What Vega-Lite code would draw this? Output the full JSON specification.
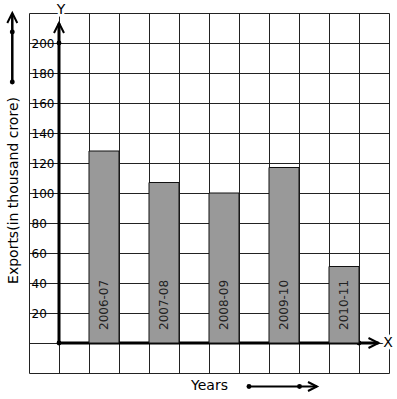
{
  "$schema": "https://vega.github.io/schema/vega-lite/v6.json",
  "width": 360,
  "height": 360,
  "autosize": {"type": "none"},
  "padding": {"left": 29, "top": 13, "right": 8, "bottom": 26},
  "background": "white",
  "config": {
    "view": {"stroke": null},
    "font": "DejaVu Sans",
    "axis": {"labelFont": "DejaVu Sans", "titleFont": "DejaVu Sans", "titleFontWeight": "normal"}
  },
  "datasets": {
    "exports": [
      {"year": "2006-07", "exports": 128},
      {"year": "2007-08", "exports": 107},
      {"year": "2008-09", "exports": 100},
      {"year": "2009-10", "exports": 117},
      {"year": "2010-11", "exports": 51}
    ]
  },
  "resolve": {"scale": {"x": "independent"}},
  "layer": [
    {
      "data": {"values": [{}]},
      "layer": [
        {
          "mark": {"type": "rule", "color": "#000000", "strokeWidth": 3},
          "encoding": {
            "x": {"datum": 0, "type": "quantitative",
                  "scale": {"domain": [-1, 11], "nice": false, "zero": false},
                  "axis": {"values": [-1, 0, 1, 2, 3, 4, 5, 6, 7, 8, 9, 10, 11], "tickCount": 30, "labelOverlap": false, "grid": true, "gridColor": "#222222", "gridWidth": 1, "gridOpacity": 1,
                           "labels": false, "ticks": false, "tickSize": 0, "domain": false,
                           "title": "Years", "titleX": 180, "titleY": 12, "titleBaseline": "middle", "titleAlign": "center", "titleFontSize": 14, "titleColor": "#000000"}},
            "y": {"datum": 0, "type": "quantitative",
                  "scale": {"domain": [-20, 220], "nice": false, "zero": false},
                  "axis": {"values": [-20, 0, 20, 40, 60, 80, 100, 120, 140, 160, 180, 200, 220], "tickCount": 30, "labelOverlap": false, "grid": true, "gridColor": "#222222", "gridWidth": 1, "gridOpacity": 1,
                           "ticks": false, "tickSize": 0, "domain": false, "labelAlign": "left", "labelPadding": -2, "labelFontSize": 12, "labelColor": "#000000",
                           "labelExpr": "datum.value >= 20 && datum.value <= 200 ? datum.label : ''",
                           "title": "Exports(in thousand crore)", "titleX": -16, "titleY": 177, "titleAngle": 270, "titleBaseline": "middle", "titleAlign": "center", "titleFontSize": 14, "titleColor": "#000000"}},
            "y2": {"datum": 213}
          }
        },
        {
          "mark": {"type": "rule", "color": "#000000", "strokeWidth": 3},
          "encoding": {"x": {"datum": 0}, "x2": {"datum": 10.65}, "y": {"datum": 0}}
        },
        {
          "mark": {"type": "rule", "color": "#000000", "strokeWidth": 2.5},
          "encoding": {"x": {"datum": -1.557}, "y": {"datum": 174}, "y2": {"datum": 219.5}}
        },
        {
          "mark": {"type": "rule", "color": "#000000", "strokeWidth": 2},
          "encoding": {"x": {"datum": 6.333}, "x2": {"datum": 8.6}, "y": {"datum": -29}}
        },
        {
          "mark": {"type": "point", "shape": "M-1,1L0,-1L1,1", "filled": false, "stroke": "#000000", "strokeWidth": 2, "size": 100, "opacity": 1},
          "encoding": {"x": {"datum": 0}, "y": {"datum": 210}}
        },
        {
          "mark": {"type": "point", "shape": "M-1,1L0,-1L1,1", "filled": false, "stroke": "#000000", "strokeWidth": 2, "size": 100, "opacity": 1},
          "encoding": {"x": {"datum": -1.557}, "y": {"datum": 216.7}}
        },
        {
          "mark": {"type": "point", "shape": "M-1,-1L1,0L-1,1", "filled": false, "stroke": "#000000", "strokeWidth": 2, "size": 100, "opacity": 1},
          "encoding": {"x": {"datum": 10.483}, "y": {"datum": 0}}
        },
        {
          "mark": {"type": "point", "shape": "M-1,-1L1,0L-1,1", "filled": false, "stroke": "#000000", "strokeWidth": 2, "size": 81, "opacity": 1},
          "encoding": {"x": {"datum": 8.45}, "y": {"datum": -29}}
        },
        {
          "mark": {"type": "circle", "color": "#000000", "size": 24, "opacity": 1},
          "encoding": {"x": {"datum": 0}, "y": {"datum": 0}}
        },
        {
          "mark": {"type": "circle", "color": "#000000", "size": 24, "opacity": 1},
          "encoding": {"x": {"datum": 0}, "y": {"datum": 200}}
        },
        {
          "mark": {"type": "circle", "color": "#000000", "size": 24, "opacity": 1},
          "encoding": {"x": {"datum": 10}, "y": {"datum": 0}}
        },
        {
          "mark": {"type": "circle", "color": "#000000", "size": 24, "opacity": 1},
          "encoding": {"x": {"datum": -1.557}, "y": {"datum": 207.3}}
        },
        {
          "mark": {"type": "circle", "color": "#000000", "size": 24, "opacity": 1},
          "encoding": {"x": {"datum": -1.557}, "y": {"datum": 174}}
        },
        {
          "mark": {"type": "circle", "color": "#000000", "size": 24, "opacity": 1},
          "encoding": {"x": {"datum": 6.333}, "y": {"datum": -29}}
        },
        {
          "mark": {"type": "circle", "color": "#000000", "size": 24, "opacity": 1},
          "encoding": {"x": {"datum": 8.017}, "y": {"datum": -29}}
        },
        {
          "mark": {"type": "text", "text": "Y", "fontSize": 14, "fill": "white", "stroke": "white", "strokeWidth": 5, "align": "center", "baseline": "middle"},
          "encoding": {"x": {"datum": 0.067}, "y": {"datum": 222}}
        },
        {
          "mark": {"type": "text", "text": "Y", "fontSize": 14, "fill": "#000000", "align": "center", "baseline": "middle"},
          "encoding": {"x": {"datum": 0.067}, "y": {"datum": 222}}
        },
        {
          "mark": {"type": "text", "text": "X", "fontSize": 14, "fill": "white", "stroke": "white", "strokeWidth": 5, "align": "center", "baseline": "middle"},
          "encoding": {"x": {"datum": 10.967}, "y": {"datum": 0}}
        },
        {
          "mark": {"type": "text", "text": "X", "fontSize": 14, "fill": "#000000", "align": "center", "baseline": "middle"},
          "encoding": {"x": {"datum": 10.967}, "y": {"datum": 0}}
        }
      ]
    },
    {
      "data": {"name": "exports"},
      "layer": [
        {
          "mark": {"type": "bar", "fill": "#999999", "stroke": "#111111", "strokeWidth": 1, "opacity": 1},
          "encoding": {
            "x": {"field": "year", "type": "nominal", "axis": null,
                  "scale": {"type": "band", "domain": ["2006-07", "2007-08", "2008-09", "2009-10", "2010-11"], "range": [60, 330], "paddingInner": 0.5, "paddingOuter": 0}},
            "y": {"field": "exports", "type": "quantitative",
                  "scale": {"domain": [-20, 220], "nice": false, "zero": false},
                  "axis": {"values": [-20, 0, 20, 40, 60, 80, 100, 120, 140, 160, 180, 200, 220], "tickCount": 30, "labelOverlap": false, "grid": true, "gridColor": "#222222", "gridWidth": 1, "gridOpacity": 1,
                           "ticks": false, "tickSize": 0, "domain": false, "labelAlign": "left", "labelPadding": -2, "labelFontSize": 12, "labelColor": "#000000",
                           "labelExpr": "datum.value >= 20 && datum.value <= 200 ? datum.label : ''",
                           "title": "Exports(in thousand crore)", "titleX": -16, "titleY": 177, "titleAngle": 270, "titleBaseline": "middle", "titleAlign": "center", "titleFontSize": 14, "titleColor": "#000000"}},
            "y2": {"datum": 0}
          }
        },
        {
          "mark": {"type": "text", "angle": 270, "align": "left", "baseline": "middle", "dx": 13, "fontSize": 12, "color": "#222222"},
          "encoding": {
            "x": {"field": "year", "type": "nominal", "axis": null,
                  "scale": {"type": "band", "domain": ["2006-07", "2007-08", "2008-09", "2009-10", "2010-11"], "range": [60, 330], "paddingInner": 0.5, "paddingOuter": 0}},
            "y": {"datum": 0, "type": "quantitative"},
            "text": {"field": "year"}
          }
        }
      ]
    }
  ]
}
